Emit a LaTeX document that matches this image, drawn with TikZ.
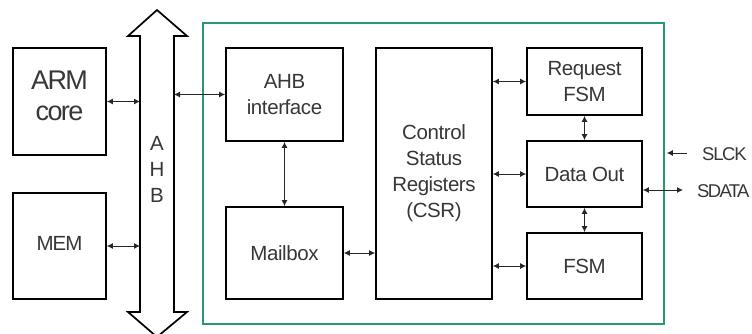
\documentclass[tikz,border=0pt]{standalone}
\usepackage{fontspec}
\setmainfont{Liberation Sans}
\usetikzlibrary{arrows.meta}
\definecolor{frameg}{RGB}{40,150,120}
\definecolor{txt}{RGB}{55,55,55}
\begin{document}
\begin{tikzpicture}[x=1pt,y=-1pt,
  blk/.style={draw=black,line width=1.7pt,inner sep=0pt,align=center,text=txt,
    font=\addfontfeature{LetterSpace=-2}\fontsize{20.5}{26}\selectfont},
  lbl/.style={inner sep=0pt,align=center,text=txt,
    font=\addfontfeature{LetterSpace=-2}\fontsize{20.5}{26}\selectfont},
  sig/.style={inner sep=0pt,anchor=west,text=txt,
    font=\addfontfeature{LetterSpace=-9}\fontsize{18.5}{22}\selectfont},
  bi/.style={line width=1pt,draw=black!85,{Latex[length=6pt,width=6pt]}-{Latex[length=6pt,width=6pt]}},
  uni/.style={line width=1pt,draw=black!85,-{Latex[length=6pt,width=6pt]}}]
\useasboundingbox (0,0) rectangle (752,334);
% frame
\node[draw=frameg,line width=2.6pt,minimum width=461pt,minimum height=301pt,inner sep=0pt] (frame) at (433.5,173.5) {};
% left blocks
\node[blk,minimum width=93pt,minimum height=107pt] (arm) at (59.5,101.5) {};
\node[lbl,font=\addfontfeature{LetterSpace=-6}\fontsize{27}{31}\selectfont] (armt) at (59.5,96) {ARM\\core};
\node[blk,minimum width=93pt,minimum height=106pt] (mem) at (59.5,246) {};
\node[lbl,font=\addfontfeature{LetterSpace=-5}\fontsize{20.5}{26}\selectfont] (memt) at (59.5,243.5) {MEM};
% AHB bus arrow
\draw[line width=1.7pt,fill=white] (157,10) -- (128,36) -- (140,36) -- (140,312) -- (128,312) -- (157,337)
  -- (187,312) -- (174,312) -- (174,36) -- (187,36) -- cycle;
\coordinate (ahbL) at (140,0);
\coordinate (ahbR) at (174,0);
\node[lbl] (ahbt) at (157,169) {A\\H\\B};
% inner blocks
\node[blk,minimum width=117pt,minimum height=93pt] (ahbif) at (284.5,94.5) {AHB\\interface};
\node[blk,minimum width=117pt,minimum height=92pt] (mail) at (284.5,253) {Mailbox};
\node[blk,minimum width=116pt,minimum height=251pt] (csr) at (434,173.5) {Control\\Status\\Registers\\(CSR)};
\node[blk,minimum width=115pt,minimum height=67pt] (req) at (584.5,81.5) {Request\\FSM};
\node[blk,minimum width=115pt,minimum height=66pt] (dout) at (584.5,174) {Data Out};
\node[blk,minimum width=115pt,minimum height=66pt] (fsm) at (584.5,266) {FSM};
% external signals
\node[sig,font=\addfontfeature{LetterSpace=-7}\fontsize{18.5}{22}\selectfont] (slck) at (702,154) {SLCK};
\node[sig] (sdata) at (697,191) {SDATA};
% connectors
\draw[bi] (arm.east) -- (arm.east -| ahbL);
\draw[bi] (mem.east) -- (mem.east -| ahbL);
\draw[bi] (ahbif.west -| ahbR) -- (ahbif.west);
\draw[bi] (ahbif.south) -- (mail.north);
\draw[bi] (mail.east) -- (mail.east -| csr.west);
\draw[bi] (req.west -| csr.east) -- (req.west);
\draw[bi] (dout.west -| csr.east) -- (dout.west);
\draw[bi] (fsm.west -| csr.east) -- (fsm.west);
\draw[bi] (req.south) -- (dout.north);
\draw[bi] (dout.south) -- (fsm.north);
\draw[uni] ([xshift=-15pt,yshift=1pt]slck.west) -- ([xshift=1.5pt,yshift=1pt]frame.east |- slck.west);
\draw[bi] ([yshift=1pt]dout.east |- sdata.west) -- ([xshift=-14pt,yshift=1pt]sdata.west);
\end{tikzpicture}
\end{document}
